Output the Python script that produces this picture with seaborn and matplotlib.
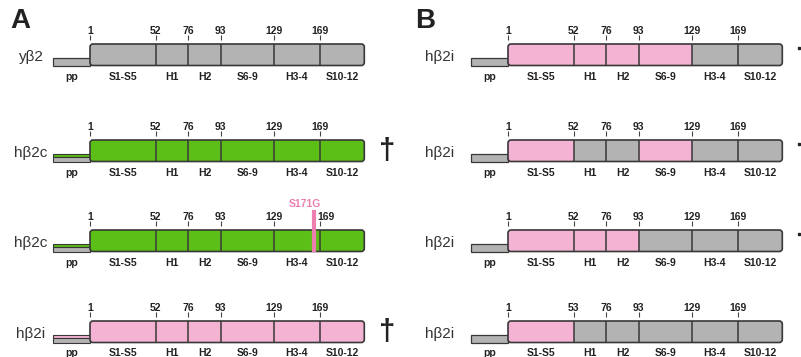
import matplotlib
matplotlib.use('Agg')
import matplotlib.pyplot as plt
from matplotlib.patches import FancyBboxPatch
import seaborn as sns

# domain map of the beta2 subunit (schematic scale, not to residue scale)
segments = ['pp', 'S1-S5', 'H1', 'H2', 'S6-9', 'H3-4', 'S10-12']
seg_edges = [53, 90, 155.7, 188.3, 220.7, 273.7, 320, 364.3]
residues = ['1', '52', '76', '93', '129', '169']
residues_b4 = ['1', '53', '76', '93', '129', '169']

# panel A
names_a = ['yβ2', 'hβ2c', 'hβ2c', 'hβ2i']
origin_a = ['yyyyyy', 'cccccc', 'cccccc', 'iiiiii']
pp_a = ['y', 'cy', 'cy', 'iy']
dagger_a = [False, True, False, True]
mut_name = 'S171G'
mut_row = 2
mut_pos = 314

# panel B
names_b = ['hβ2i', 'hβ2i', 'hβ2i', 'hβ2i']
origin_b = ['iiiiyy', 'iyyiyy', 'iiiyyy', 'iyyyyy']
pp_b = ['y', 'y', 'y', 'y']
ticks_b = [residues, residues, residues, residues_b4]
dot_b = [True, True, True, False]

sns.set_theme(style='white')
plt.rcParams['font.family'] = ['Liberation Sans', 'DejaVu Sans']

PalDict = {'y': '#b3b3b3', 'c': '#5cbf17', 'i': '#f4b3d3'}
Edge = '#383838'
MutCol = '#ec7fb0'

RowTop = [44, 140, 230, 321]
BarH = 21.5
PpH = 7.5


def draw_row(ax, dx, top, origin, pp, ticks, name, name_x, shift=None):
    # pro-peptide
    x0 = seg_edges[0] + dx
    w = seg_edges[1] - seg_edges[0]
    bot = top + BarH
    if len(pp) == 1:
        ax.barh(bot - PpH / 2, w, left=x0, height=PpH, color=PalDict[pp],
                edgecolor=Edge, linewidth=0.9, zorder=2)
    else:
        ax.barh(bot - PpH + 1.5, w, left=x0, height=3, color=PalDict[pp[0]],
                edgecolor=Edge, linewidth=0.8, zorder=2)
        ax.barh(bot - 2.25, w, left=x0, height=4.5, color=PalDict[pp[1]],
                edgecolor=Edge, linewidth=0.8, zorder=2)

    # mature domains
    left = seg_edges[1] + dx
    box = FancyBboxPatch((left, top), seg_edges[-1] - seg_edges[1], BarH,
                         boxstyle='round,pad=0,rounding_size=3',
                         fc='none', ec=Edge, lw=1.2, zorder=5)
    ax.add_patch(box)
    lefts = [e + dx for e in seg_edges[1:-1]]
    widths = [b - a for a, b in zip(seg_edges[1:-1], seg_edges[2:])]
    bars = ax.barh([top + BarH / 2] * len(lefts), widths, left=lefts,
                   height=BarH, color=[PalDict[o] for o in origin],
                   linewidth=0, zorder=3)
    for b in bars:
        b.set_clip_path(box)
    ax.vlines(lefts[1:], top, bot, color=Edge, lw=1.1, zorder=4)

    # residue numbers
    ax.vlines(lefts, top - 9, top - 4, color='#444444', lw=0.8)
    shift = shift or [0] * len(ticks)
    for x, t, s in zip(lefts, ticks, shift):
        ax.text(x + s, top - 13, t, ha='center', va='center', fontsize=7.5,
                fontweight='bold', color='#222222')

    # segment names
    mids = [(a + b) / 2 + dx for a, b in zip(seg_edges[:-1], seg_edges[1:])]
    for x, s in zip(mids, segments):
        ax.text(x, bot + 11, s, ha='center', va='center', fontsize=7.5,
                fontweight='bold', color='#222222')

    ax.text(name_x, top + BarH / 2 + 2, name, ha='center', va='center',
            fontsize=11, color='#333333')


fig = plt.figure(figsize=(8.01, 3.57), dpi=100)
ax = fig.add_axes([0, 0, 1, 1])
ax.set_xlim(0, 801)
ax.set_ylim(357, 0)
ax.axis('off')

for ir in range(4):
    shift = [0, 0, 0, 0, 0, 6] if ir == mut_row else None
    draw_row(ax, 0, RowTop[ir], origin_a[ir], pp_a[ir], residues,
             names_a[ir], 31, shift)
    if dagger_a[ir]:
        ax.text(387, RowTop[ir] + BarH / 2, '†', ha='center', va='center',
                fontsize=21, fontweight='bold', color='#222222')

    draw_row(ax, 418, RowTop[ir], origin_b[ir], pp_b[ir], ticks_b[ir],
             names_b[ir], 440)
    if dot_b[ir]:
        ax.plot(799, RowTop[ir] + 4, 's', color='#222222', markersize=2)

# point mutation
mt = RowTop[mut_row]
ax.vlines(mut_pos, mt - 20, mt + BarH, color=MutCol, lw=3, zorder=6)
ax.text(mut_pos - 9, mt - 26, mut_name, ha='center', va='center',
        fontsize=7.5, fontweight='bold', color=MutCol)

ax.text(20, 21, 'A', ha='center', va='center', fontsize=20,
        fontweight='bold', color='#222222')
ax.text(425, 21, 'B', ha='center', va='center', fontsize=20,
        fontweight='bold', color='#222222')

fig.savefig('out.png', dpi=100)
